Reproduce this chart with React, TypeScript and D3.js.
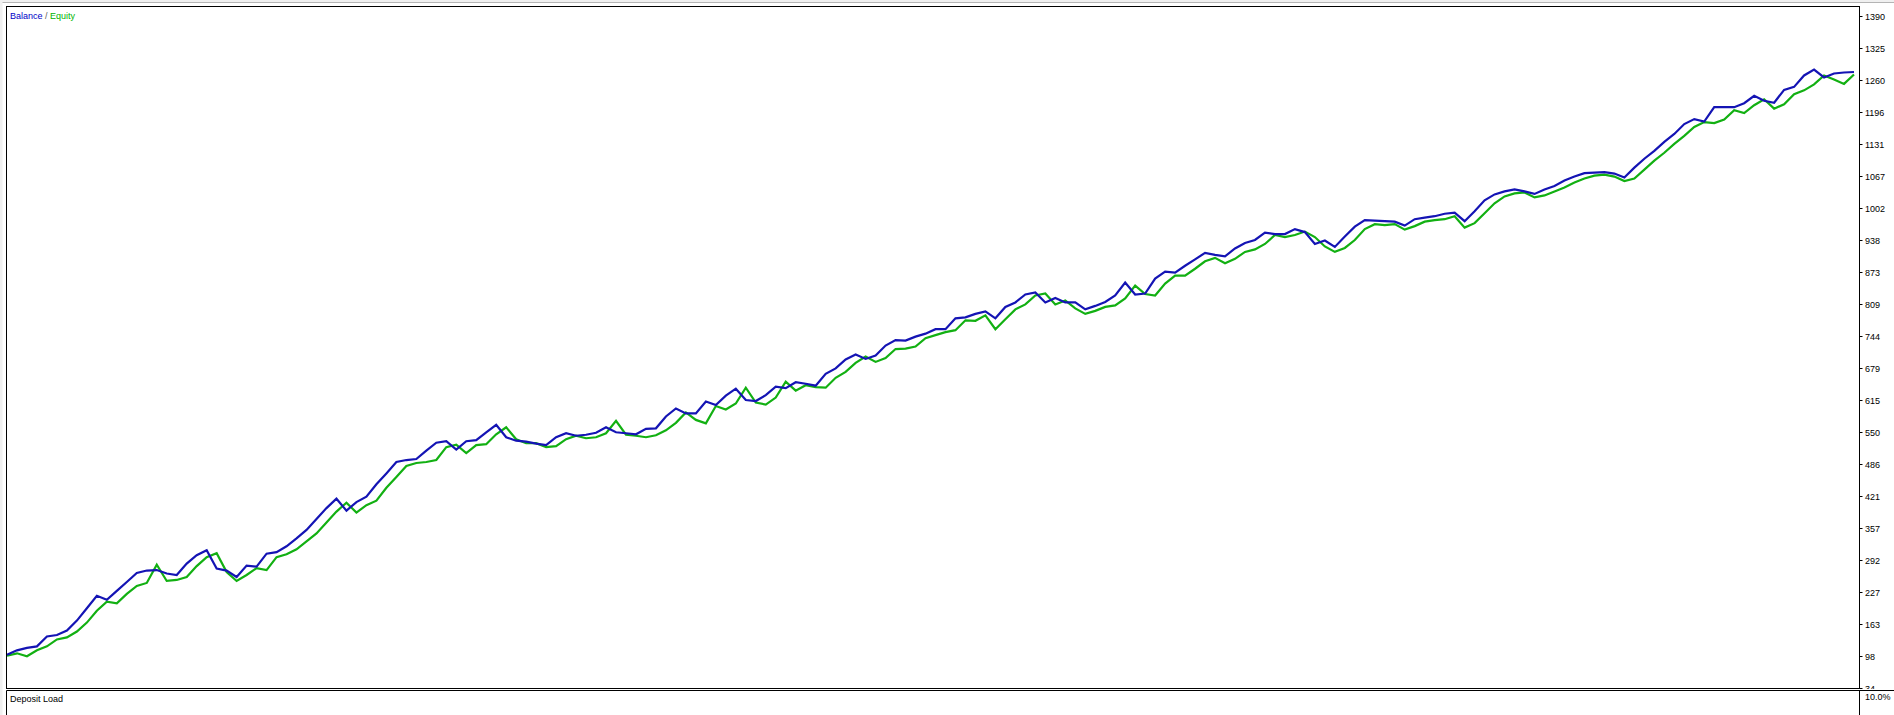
import React from "react";
import * as d3 from "d3";

const W = 1894;
const H = 715;

// Y axis tick labels (right side)
const yTickLabels = [
  "34", "98", "163", "227", "292", "357", "421", "486", "550", "615", "679",
  "744", "809", "873", "938", "1002", "1067", "1131", "1196", "1260", "1325", "1390",
];
const yMin = 34;
const yMax = 1390;

// Balance curve values (equally spaced deals)
const balance = [
  101, 110, 115, 118, 138, 141, 150, 170, 195, 220,
  212, 230, 248, 266, 271, 272, 265, 262, 285, 302,
  312, 275, 271, 258, 281, 279, 305, 308, 320, 336,
  353, 375, 397, 416, 392, 409, 420, 445, 467, 490,
  494, 496, 513, 529, 532, 515, 532, 534, 550, 565,
  540, 533, 531, 527, 524, 540, 548, 543, 545, 549,
  560, 550, 548, 546, 557, 558, 582, 598, 588, 588,
  612, 605, 624, 638, 615, 613, 625, 642, 639, 651,
  648, 644, 668, 679, 697, 707, 698, 705, 725, 736,
  735, 743, 749, 758, 758, 780, 782, 789, 794, 780,
  803, 812, 828, 832, 812, 821, 812, 812, 798, 805,
  813, 826, 852, 828, 830, 860, 874, 872, 886, 899,
  912, 908, 905, 921, 932, 938, 953, 950, 950, 960,
  954, 930, 937, 924, 945, 965, 978, 977, 976, 975,
  967, 980, 983, 986, 991, 993, 976, 996, 1018, 1030,
  1036, 1040, 1036, 1031, 1040, 1047, 1058, 1066, 1073, 1074,
  1075, 1072, 1064, 1084, 1102, 1118, 1136, 1152, 1172, 1182,
  1177, 1206, 1206, 1206, 1214, 1229, 1219, 1215, 1241, 1247,
  1270, 1282, 1266, 1274, 1276, 1277,
];

// Equity curve values (same deals)
const equity = [
  99, 104, 98, 110, 118, 132, 136, 148, 166, 190,
  208, 205, 224, 240, 246, 283, 250, 252, 258, 280,
  298, 306, 268, 250, 262, 276, 272, 298, 304, 314,
  330, 346, 368, 390, 408, 388, 403, 412, 438, 460,
  482, 488, 490, 494, 520, 525, 508, 524, 526, 546,
  560, 536, 528, 528, 520, 522, 536, 543, 538, 540,
  548, 573, 545, 543, 540, 544, 554, 569, 590, 575,
  568, 603, 596, 608, 640, 610, 606, 620, 652, 634,
  645, 641, 640, 660, 672, 690, 703, 692, 700, 718,
  719, 723, 740, 746, 752, 756, 776, 775, 786, 758,
  778, 798, 808, 826, 830, 808, 816, 800, 789, 795,
  803, 806, 820, 846, 829, 826, 850, 866, 866, 880,
  895, 902, 891, 900, 914, 919, 930, 948, 944, 948,
  955, 944, 925, 914, 922, 938, 960, 970, 968, 970,
  959, 966, 975, 978, 980, 986, 963, 972, 992, 1012,
  1026, 1032, 1034, 1024, 1028, 1036, 1044, 1054, 1062, 1068,
  1070, 1066, 1057, 1062, 1080, 1098, 1114, 1132, 1148, 1166,
  1176, 1174, 1181, 1200, 1194, 1210, 1222, 1203, 1212, 1232,
  1240, 1252, 1270, 1262, 1253, 1272,
];

const FONT = "'Liberation Sans', Arial, sans-serif";
const BLUE = "#1414b4";
const GREEN = "#12b012";

export default function App() {
  const left = 6.5;
  const right = 1859.5;
  const top = 6.5;
  const bottom = 688.5;
  const panel2Top = 690.5;

  const x = d3.scaleLinear().domain([0, balance.length - 1]).range([7, 1854]);
  const y = d3.scaleLinear().domain([yMin, yMax]).range([688, 16]);

  const balLine = d3
    .line<number>()
    .x((_, i) => x(i))
    .y((d) => y(d))
    .curve(d3.curveLinear);
  const eqLine = d3
    .line<number>()
    .x((_, i) => x(i))
    .y((d) => y(d))
    .curve(d3.curveLinear);

  return (
    <svg
      width={W}
      height={H}
      style={{ position: "absolute", left: 0, top: 0, display: "block", background: "#fff" }}
    >
      <rect x={0} y={0} width={W} height={H} fill="#ffffff" />
      {/* top and left window chrome */}
      <rect x={0} y={0} width={W} height={2} fill="#f0f0f0" />
      <line x1={0} x2={W} y1={2.5} y2={2.5} stroke="#b4b4b4" strokeWidth={1} />
      <rect x={0} y={0} width={2.5} height={H} fill="#f0f0f0" />

      <clipPath id="plotClip">
        <rect x={left} y={top} width={right - left} height={bottom - top} />
      </clipPath>

      <g clipPath="url(#plotClip)">
        <path d={eqLine(equity) || ""} fill="none" stroke={GREEN} strokeWidth={2.2} />
        <path d={balLine(balance) || ""} fill="none" stroke={BLUE} strokeWidth={2.2} />
      </g>

      {/* Y axis ticks & labels */}
      {yTickLabels.map((t) => {
        const yy = Math.round(y(+t)) + 0.5;
        return (
          <g key={t}>
            <line x1={right} x2={right + 3} y1={yy} y2={yy} stroke="#000" strokeWidth={1} />
            <text x={1865} y={yy + 3.2} fontFamily={FONT} fontSize={9} fill="#000">
              {t}
            </text>
          </g>
        );
      })}

      {/* main panel frame */}
      <rect
        x={left}
        y={top}
        width={right - left}
        height={bottom - top}
        fill="none"
        stroke="#000"
        strokeWidth={1}
      />

      {/* legend */}
      <text x={10} y={19} fontFamily={FONT} fontSize={9}>
        <tspan fill="#0000c8">Balance</tspan>
        <tspan fill="#606060"> / </tspan>
        <tspan fill="#00b400">Equity</tspan>
      </text>

      {/* deposit load panel */}
      <rect x={3} y={689} width={W - 3} height={H - 689} fill="#ffffff" />
      <line x1={left} x2={right} y1={bottom} y2={bottom} stroke="#000" strokeWidth={1} />
      <line x1={left} x2={W} y1={panel2Top} y2={panel2Top} stroke="#000" strokeWidth={1} />
      <line x1={left} x2={left} y1={panel2Top} y2={H} stroke="#000" strokeWidth={1} />
      <line x1={right} x2={right} y1={panel2Top} y2={H} stroke="#000" strokeWidth={1} />
      <text x={10} y={702} fontFamily={FONT} fontSize={9} fill="#000">
        Deposit Load
      </text>
      <text x={1865} y={700} fontFamily={FONT} fontSize={9} fill="#000">
        10.0%
      </text>
    </svg>
  );
}
